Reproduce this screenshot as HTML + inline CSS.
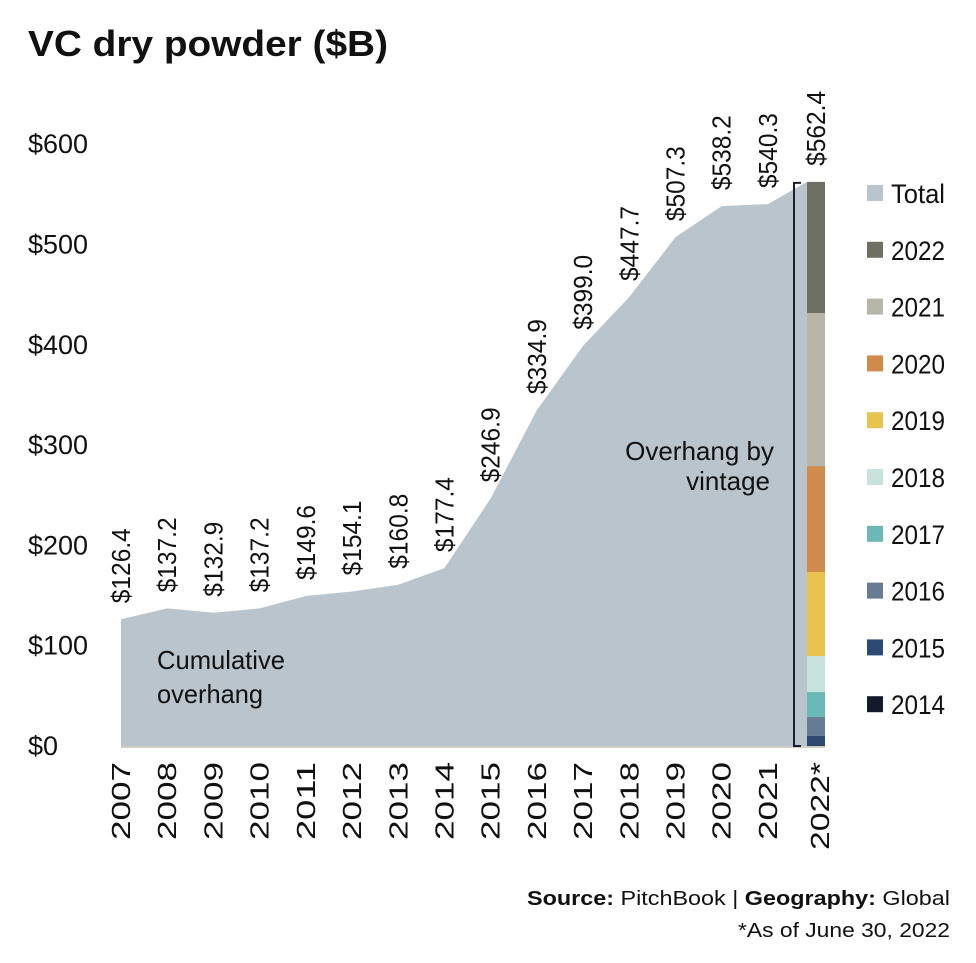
<!DOCTYPE html>
<html><head><meta charset="utf-8"><style>
body{margin:0;background:#fff;}
svg text{font-family:"Liberation Sans",sans-serif;fill:#111;}
</style></head><body>
<svg width="976" height="958" viewBox="0 0 976 958" xmlns="http://www.w3.org/2000/svg">
<text x="28" y="56" font-size="36" font-weight="bold" textLength="360" lengthAdjust="spacingAndGlyphs">VC dry powder ($B)</text>
<g id="yaxis"></g>
<g id="area"></g>
<g id="bar"></g>
<g id="vlabels"></g>
<g id="xaxis"></g>
<g id="legend"></g>
<text font-size="26"><tspan x="157" y="669" textLength="128" lengthAdjust="spacingAndGlyphs">Cumulative</tspan><tspan x="157" y="703" textLength="106" lengthAdjust="spacingAndGlyphs">overhang</tspan></text>
<text font-size="26" text-anchor="end"><tspan x="774" y="460">Overhang by</tspan><tspan x="770" y="490">vintage</tspan></text>
<text x="527" y="905" font-size="20" textLength="423" lengthAdjust="spacingAndGlyphs"><tspan font-weight="bold">Source:</tspan> PitchBook  |  <tspan font-weight="bold">Geography:</tspan> Global</text>
<text x="738" y="937" font-size="20" textLength="212" lengthAdjust="spacingAndGlyphs">*As of June 30, 2022</text>
</svg>
<script>
const years = ["2007","2008","2009","2010","2011","2012","2013","2014","2015","2016","2017","2018","2019","2020","2021","2022*"];
const totals = [126.4,137.2,132.9,137.2,149.6,154.1,160.8,177.4,246.9,334.9,399.0,447.7,507.3,538.2,540.3,562.4];
const vintages = ["2014","2015","2016","2017","2018","2019","2020","2021","2022"];
const vintageValues = [0.6,9.4,18.9,24.9,35.9,83.7,105.7,152.6,130.7];
const vintageColors = ["#141a2b","#2d4a72","#667c94","#6ab8b8","#c8e3dd","#e8c44e","#d08a4a","#b8b6a8","#6f6f64"];
const yTicks = [0,100,200,300,400,500,600];
const legendLabels = ["Total","2022","2021","2020","2019","2018","2017","2016","2015","2014"];
const legendColors = ["#b9c4cc","#6f6f64","#b8b6a8","#d08a4a","#e8c44e","#c8e3dd","#6ab8b8","#667c94","#2d4a72","#141a2b"];

const NS="http://www.w3.org/2000/svg";
function mk(tag,attrs,parent){const e=document.createElementNS(NS,tag);for(const k in attrs)e.setAttribute(k,attrs[k]);parent.appendChild(e);return e;}
const y0=746, yScale=1.003;
function y(v){return y0-v*yScale;}
function x(i){return i<15?121+46.21*i:816;}
const barL=807,barR=825;

const ya=document.getElementById('yaxis');
yTicks.forEach(t=>{
  const e=mk('text',{x:28,y:y(t)+9,'font-size':27},ya);
  e.textContent='$'+t;
  
  
});

const ar=document.getElementById('area');
let pts=[];
for(let i=0;i<15;i++)pts.push(x(i)+','+y(totals[i]));
pts.push(barL+','+y(totals[15]));
pts.push(barL+','+y0);pts.push(x(0)+','+y0);
const poly=mk('polygon',{points:pts.join(' '),fill:'#b9c4cc'},ar);


const bl=mk('line',{x1:x(0),x2:barR,y1:y0+1,y2:y0+1,stroke:'#cfcfc2','stroke-width':2},ar);



const br=document.getElementById('bar');
let acc=0;
vintageValues.forEach((v,i)=>{
  const r=mk('rect',{x:barL,y:y(acc+v),width:barR-barL,height:v*yScale,fill:vintageColors[i]},br);
  
  
  acc+=v;
});
const barTop=y(totals[15]);
const bracket=mk('path',{d:`M801 ${barTop+1} H794 V${y0} H801`,fill:'none',stroke:'#1a2030','stroke-width':2},br);



const vl=document.getElementById('vlabels');
totals.forEach((v,i)=>{
  const cx=i<15?x(i):816;
  const by=y(v)-16;
  const t=mk('text',{transform:`translate(${cx+9},${by}) rotate(-90)`,'font-size':26,textLength:75,lengthAdjust:'spacingAndGlyphs'},vl);
  t.textContent='$'+v.toFixed(1);
  
  
});

const xa=document.getElementById('xaxis');
years.forEach((yr,i)=>{
  const cx=i<15?x(i):820;
  const len=yr.length>4?88:78;
  const t=mk('text',{transform:`translate(${cx+9},762) rotate(-90)`,'font-size':26,'text-anchor':'end',textLength:len,lengthAdjust:'spacingAndGlyphs'},xa);
  t.textContent=yr;
  
  
});

const lg=document.getElementById('legend');
legendLabels.forEach((l,i)=>{
  const cy=193+i*56.8;
  const g=mk('g',{},lg);
  
  
  mk('rect',{x:867,y:cy-8,width:16,height:16,fill:legendColors[i]},g);
  const t=mk('text',{x:891,y:cy+10,'font-size':27,textLength:54,lengthAdjust:'spacingAndGlyphs'},g);
  t.textContent=l;
});
</script>
</body></html>
